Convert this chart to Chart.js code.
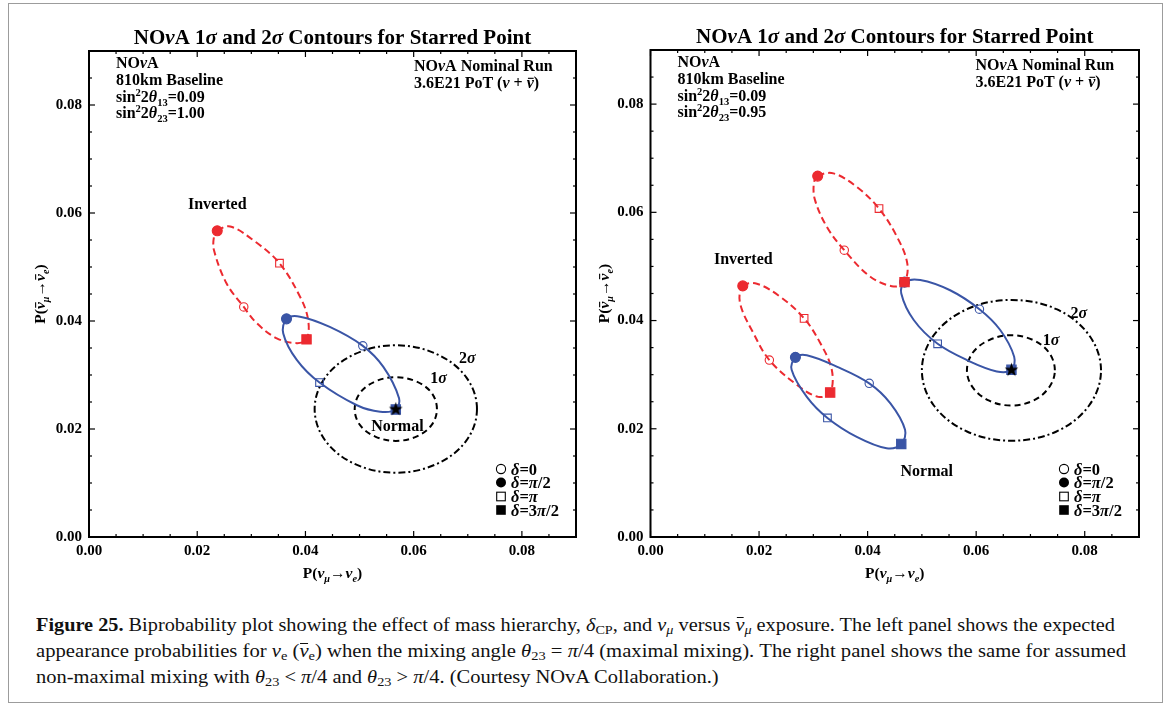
<!DOCTYPE html>
<html>
<head>
<meta charset="utf-8">
<script src="https://cdn.jsdelivr.net/npm/chart.js@4.4.0/dist/chart.umd.min.js"></script>
<style>
  body { margin: 0; background: #fff; width: 1168px; height: 706px; position: relative; overflow: hidden; font-family: "Liberation Serif", serif; }
  #frame { position: absolute; left: 8px; top: 3px; width: 1155px; height: 700px; border: 1px solid #9c9c9c; box-sizing: border-box; }
  canvas { position: absolute; top: 0; }
  .cap { position: absolute; left: 36px; font-size: 18px; line-height: 26px; white-space: nowrap; color: #111; transform-origin: 0 50%; }
  .cap sub { font-size: 70%; vertical-align: -3px; line-height: 0; }
  .bar { position: relative; display: inline-block; }
  .bar::after { content: ""; position: absolute; left: 12%; right: 5%; top: 0.28em; border-top: 1px solid #111; }
</style>
</head>
<body>
<div id="frame"></div>
<canvas id="leftPanel" width="584" height="590" style="left:0"></canvas>
<canvas id="rightPanel" width="584" height="590" style="left:584px"></canvas>

<div class="cap" style="top:612px"><b>Figure 25.</b> Biprobability plot showing the effect of mass hierarchy, <i>δ</i><sub>CP</sub>, and <i>ν<sub>μ</sub></i> versus <i><span class="bar">ν</span><sub>μ</sub></i> exposure. The left panel shows the expected</div>
<div class="cap" style="top:638px">appearance probabilities for <i>ν</i><sub>e</sub> (<i><span class="bar">ν</span></i><sub>e</sub>) when the mixing angle <i>θ</i><sub>23</sub> = <i>π</i>/4 (maximal mixing). The right panel shows the same for assumed</div>
<div class="cap" style="top:664px">non-maximal mixing with <i>θ</i><sub>23</sub> &lt; <i>π</i>/4 and <i>θ</i><sub>23</sub> &gt; <i>π</i>/4. (Courtesy NOvA Collaboration.)</div>

<script>
/* ----- dados: [P(nu_mu->nu_e), P(antinu_mu->antinu_e)] ----- */

// painel esquerdo, sin^2 2theta23 = 1.00
const leftInvertedCurve = [
  [0.0237, 0.0567], [0.0261, 0.0575], [0.0307, 0.0547], [0.0352, 0.0507], [0.0390, 0.0445],
  [0.0405, 0.0402], [0.0402, 0.0366], [0.0384, 0.0359], [0.0347, 0.0368], [0.0310, 0.0396],
  [0.0286, 0.0426], [0.0254, 0.0470], [0.0231, 0.0531], [0.0231, 0.0556]
];
const leftNormalCurve = [
  [0.0365, 0.0404], [0.0390, 0.0408], [0.0445, 0.0389], [0.0506, 0.0354], [0.0544, 0.0315],
  [0.0573, 0.0257], [0.0567, 0.0236], [0.0538, 0.0232], [0.0495, 0.0244], [0.0426, 0.0286],
  [0.0384, 0.0328], [0.0359, 0.0377]
];
const leftSigma1 = [
  [0.0643, 0.0237], [0.0633, 0.0267], [0.0605, 0.0288], [0.0567, 0.0296], [0.0529, 0.0288],
  [0.0501, 0.0267], [0.0491, 0.0237], [0.0501, 0.0207], [0.0529, 0.0186], [0.0567, 0.0178],
  [0.0605, 0.0186], [0.0633, 0.0207]
];
const leftSigma2 = [
  [0.0717, 0.0237], [0.0697, 0.0296], [0.0642, 0.0339], [0.0567, 0.0355], [0.0492, 0.0339],
  [0.0437, 0.0296], [0.0417, 0.0237], [0.0437, 0.0178], [0.0492, 0.0135], [0.0567, 0.0119],
  [0.0642, 0.0135], [0.0697, 0.0178]
];
// marcadores na ordem delta = 0, pi/2, pi, 3pi/2
const leftInvertedDelta = [[0.0286, 0.0426], [0.0237, 0.0567], [0.0352, 0.0507], [0.0402, 0.0366]];
const leftNormalDelta = [[0.0506, 0.0354], [0.0365, 0.0404], [0.0426, 0.0286], [0.0567, 0.0236]];
const leftStar = [[0.0567, 0.0237]];

// painel direito, sin^2 2theta23 = 0.95
const rightInvertedUpper = [
  [0.0308, 0.0667], [0.0337, 0.0672], [0.0380, 0.0647], [0.0421, 0.0607], [0.0454, 0.0555],
  [0.0473, 0.0506], [0.0468, 0.0471], [0.0448, 0.0463], [0.0405, 0.0481], [0.0357, 0.0530],
  [0.0325, 0.0573], [0.0303, 0.0623], [0.0301, 0.0654]
];
const rightInvertedLower = [
  [0.0170, 0.0464], [0.0196, 0.0468], [0.0239, 0.0444], [0.0283, 0.0404], [0.0313, 0.0358],
  [0.0334, 0.0309], [0.0331, 0.0267], [0.0309, 0.0259], [0.0270, 0.0281], [0.0219, 0.0327],
  [0.0190, 0.0376], [0.0165, 0.0432]
];
const rightNormalUpper = [
  [0.0468, 0.0471], [0.0497, 0.0475], [0.0552, 0.0456], [0.0606, 0.0421], [0.0644, 0.0383],
  [0.0670, 0.0333], [0.0665, 0.0309], [0.0638, 0.0306], [0.0583, 0.0327], [0.0529, 0.0357],
  [0.0485, 0.0401], [0.0462, 0.0450]
];
const rightNormalLower = [
  [0.0267, 0.0332], [0.0288, 0.0336], [0.0343, 0.0315], [0.0403, 0.0284], [0.0442, 0.0247],
  [0.0469, 0.0198], [0.0462, 0.0172], [0.0435, 0.0164], [0.0380, 0.0185], [0.0326, 0.0220],
  [0.0288, 0.0259], [0.0260, 0.0309]
];
const rightSigma1 = [
  [0.0745, 0.0308], [0.0734, 0.0341], [0.0705, 0.0364], [0.0664, 0.0373], [0.0624, 0.0364],
  [0.0594, 0.0341], [0.0583, 0.0308], [0.0594, 0.0276], [0.0624, 0.0252], [0.0664, 0.0243],
  [0.0705, 0.0252], [0.0734, 0.0276]
];
const rightSigma2 = [
  [0.0830, 0.0308], [0.0808, 0.0373], [0.0748, 0.0421], [0.0665, 0.0438], [0.0583, 0.0421],
  [0.0522, 0.0373], [0.0500, 0.0308], [0.0522, 0.0243], [0.0583, 0.0195], [0.0665, 0.0178],
  [0.0748, 0.0195], [0.0808, 0.0243]
];
const rightInvUpperDelta = [[0.0357, 0.0530], [0.0308, 0.0667], [0.0421, 0.0607], [0.0468, 0.0471]];
const rightInvLowerDelta = [[0.0219, 0.0327], [0.0170, 0.0464], [0.0283, 0.0404], [0.0331, 0.0267]];
const rightNorUpperDelta = [[0.0606, 0.0421], [0.0468, 0.0471], [0.0529, 0.0357], [0.0665, 0.0309]];
const rightNorLowerDelta = [[0.0403, 0.0284], [0.0267, 0.0332], [0.0326, 0.0220], [0.0462, 0.0172]];
const rightStar = [[0.0665, 0.0309]];

// eixos
const axisMin = 0, axisMax = 0.09, minorStep = 0.005;
const legendLabels = ['δ=0', 'δ=π/2', 'δ=π', 'δ=3π/2'];

/* ----- estilos ----- */
const RED = '#ec2a30';
const BLUE = '#3a55a6';
const FONT = '"Liberation Serif", "DejaVu Serif", serif';
const CLEAR = 'rgba(0,0,0,0)';

function isMajor(v) { return Math.abs(v * 50 - Math.round(v * 50)) < 1e-6; }

// estrela preta cheia como pointStyle
const starImg = document.createElement('canvas');
starImg.width = 15; starImg.height = 15;
(function () {
  const c = starImg.getContext('2d');
  c.beginPath();
  for (let i = 0; i < 10; i++) {
    const r = i % 2 ? 2.9 : 7.2;
    const a = -Math.PI / 2 + i * Math.PI / 5;
    c.lineTo(7.5 + r * Math.cos(a), 7.8 + r * Math.sin(a));
  }
  c.closePath();
  c.fillStyle = '#000';
  c.fill();
})();

/* fecha a curva: repete os vizinhos para a spline ficar suave na emenda */
function curve(pts, color, dash, width, order) {
  const n = pts.length;
  const wrapped = [pts[n - 1], ...pts, pts[0], pts[1]];
  return {
    data: wrapped.map(p => ({ x: p[0], y: p[1] })),
    showLine: true, fill: false, tension: 0.36,
    borderColor: color, borderWidth: width, borderDash: dash,
    pointRadius: 0, pointHoverRadius: 0, order,
    segment: { borderColor: c => (c.p0DataIndex === 0 || c.p0DataIndex === n + 1) ? CLEAR : undefined }
  };
}

function deltas(pts, color, order) {
  return {
    data: pts.map(p => ({ x: p[0], y: p[1] })),
    showLine: false, order,
    pointStyle: ['circle', 'circle', 'rect', 'rect'],
    pointRadius: [4.2, 5, 5.4, 6.6],
    pointBackgroundColor: [CLEAR, color, CLEAR, color],
    pointBorderColor: color,
    pointBorderWidth: 1.1
  };
}

function star(pts) {
  return { data: pts.map(p => ({ x: p[0], y: p[1] })), showLine: false, pointStyle: starImg, pointRadius: 7, order: 0 };
}

/* ----- texto com sub/sobrescrito, italico e barra ----- */
function rich(ctx, parts, x, y, size, align, bold) {
  const items = parts.map(p => {
    const t = typeof p === 'string' ? p : p[0];
    const f = typeof p === 'string' ? '' : p[1];
    const s = (f.includes('_') || f.includes('^')) ? size * 0.66 : size;
    ctx.font = `${f.includes('i') ? 'italic ' : ''}${bold ? 'bold ' : ''}${s}px ${FONT}`;
    return { t, f, s, w: ctx.measureText(t).width };
  });
  const total = items.reduce((a, b) => a + b.w, 0);
  let cx = align === 'center' ? x - total / 2 : align === 'right' ? x - total : x;
  ctx.textAlign = 'left';
  ctx.textBaseline = 'alphabetic';
  for (const it of items) {
    ctx.font = `${it.f.includes('i') ? 'italic ' : ''}${bold ? 'bold ' : ''}${it.s}px ${FONT}`;
    const dy = it.f.includes('_') ? size * 0.27 : it.f.includes('^') ? -size * 0.4 : 0;
    ctx.fillText(it.t, cx, y + dy);
    if (it.f.includes('-')) ctx.fillRect(cx + it.w * 0.18, y - size * 0.64, it.w * 0.8, Math.max(1, size * 0.07));
    cx += it.w;
  }
}

const xTitle = ['P(', ['ν', 'i'], ['μ', 'i_'], '→', ['ν', 'i'], ['e', 'i_'], ')'];
const yTitle = ['P(', ['ν', 'i-'], ['μ', 'i_'], '→', ['ν', 'i-'], ['e', 'i_'], ')'];
const titleParts = ['NO', ['ν', 'i'], 'A 1', ['σ', 'i'], ' and 2', ['σ', 'i'], ' Contours for Starred Point'];
const legendParts = [
  [['δ', 'i'], '=0'],
  [['δ', 'i'], '=', ['π', 'i'], '/2'],
  [['δ', 'i'], '=', ['π', 'i']],
  [['δ', 'i'], '=3', ['π', 'i'], '/2']
];

const decor = {
  id: 'decor',
  afterDraw(chart, args, o) {
    const { ctx, chartArea: a, scales: { x, y } } = chart;
    ctx.save();
    ctx.strokeStyle = '#000';
    ctx.fillStyle = '#000';
    ctx.lineWidth = 1.2;
    const seg = (x1, y1, x2, y2) => { ctx.beginPath(); ctx.moveTo(x1, y1); ctx.lineTo(x2, y2); ctx.stroke(); };
    x.ticks.forEach(t => {
      const px = x.getPixelForValue(t.value), L = isMajor(t.value) ? 6 : 3;
      seg(px, a.bottom, px, a.bottom - L); seg(px, a.top, px, a.top + L);
    });
    y.ticks.forEach(t => {
      const py = y.getPixelForValue(t.value), L = isMajor(t.value) ? 6 : 3;
      seg(a.left, py, a.left + L, py); seg(a.right, py, a.right - L, py);
    });
    ctx.lineWidth = 2;
    ctx.strokeRect(a.left, a.top, a.right - a.left, a.bottom - a.top);

    const midX = (a.left + a.right) / 2, midY = (a.top + a.bottom) / 2;
    rich(ctx, titleParts, midX, a.top - 7, 21, 'center', true);
    rich(ctx, xTitle, midX, a.bottom + 41, 15.5, 'center', true);
    ctx.save();
    ctx.translate(a.left - o.yTitleGap + 5, midY);
    ctx.rotate(-Math.PI / 2);
    rich(ctx, yTitle, 0, 0, 15.5, 'center', true);
    ctx.restore();

    const info = [
      ['NO', ['ν', 'i'], 'A'],
      ['810km Baseline'],
      ['sin', ['2', '^'], '2', ['θ', 'i'], ['13', '_'], '=0.09'],
      ['sin', ['2', '^'], '2', ['θ', 'i'], ['23', '_'], '=' + o.s23]
    ];
    [17, 34, 51, 67].forEach((dy, i) => rich(ctx, info[i], a.left + 27, a.top + dy, 16, 'left', true));
    rich(ctx, ['NO', ['ν', 'i'], 'A Nominal Run'], a.left + 325, a.top + 20, 16, 'left', true);
    rich(ctx, ['3.6E21 PoT (', ['ν', 'i'], ' + ', ['ν', 'i-'], ')'], a.left + 325, a.top + 37, 16, 'left', true);

    o.labels.forEach(l => rich(ctx, l.parts, x.getPixelForValue(l.at[0]), y.getPixelForValue(l.at[1]) + 5.5, 16, 'center', true));

    // legenda dos marcadores
    const lx = a.right - 75;
    [-68, -54.5, -40.5, -27].forEach((dy, i) => {
      const ly = a.bottom + dy;
      ctx.lineWidth = 1.1;
      ctx.beginPath();
      if (i === 0) { ctx.arc(lx, ly, 4.6, 0, Math.PI * 2); ctx.stroke(); }
      if (i === 1) { ctx.arc(lx, ly, 5, 0, Math.PI * 2); ctx.fill(); }
      if (i === 2) { ctx.strokeRect(lx - 4.3, ly - 4.3, 8.6, 8.6); }
      if (i === 3) { ctx.fillRect(lx - 4.8, ly - 4.8, 9.6, 9.6); }
      rich(ctx, legendParts[i], lx + 10, ly + 5.5, 16.5, 'left', true);
    });
    ctx.restore();
  }
};

function axis(pos, fitSize) {
  return {
    type: 'linear', position: pos, min: axisMin, max: axisMax,
    afterFit: s => { if (pos === 'bottom') s.height = fitSize; else s.width = fitSize; },
    grid: { display: false, drawTicks: false },
    border: { display: false },
    ticks: {
      stepSize: minorStep, autoSkip: false, maxRotation: 0, padding: pos === 'bottom' ? 5 : 7,
      color: '#000', font: { family: FONT, weight: 'bold', size: 15 },
      callback: v => isMajor(v) ? v.toFixed(2) : ''
    }
  };
}

function panel(id, datasets, opts) {
  return new Chart(document.getElementById(id), {
    type: 'scatter',
    data: { datasets },
    options: {
      responsive: false, animation: false, devicePixelRatio: 1,
      layout: { padding: { left: 0, right: opts.padRight, top: opts.padTop, bottom: 0 } },
      scales: { x: axis('bottom', 53), y: axis('left', opts.yWidth) },
      plugins: {
        legend: { display: false }, tooltip: { enabled: false },
        decor: { yTitleGap: opts.yTitleGap, s23: opts.s23, labels: opts.labels }
      }
    },
    plugins: [decor]
  });
}

const sigmaLabels = (p1, p2) => [
  { parts: ['1', ['σ', 'i']], at: p1 },
  { parts: ['2', ['σ', 'i']], at: p2 }
];

panel('leftPanel', [
  curve(leftSigma2, '#000', [7, 3, 2, 3], 2, 10),
  curve(leftSigma1, '#000', [6, 4], 2, 10),
  curve(leftInvertedCurve, RED, [7, 4], 2, 8),
  curve(leftNormalCurve, BLUE, [], 2, 7),
  deltas(leftNormalDelta, BLUE, 4),
  deltas(leftInvertedDelta, RED, 3),
  star(leftStar)
], {
  padRight: 8, padTop: 51, yWidth: 89, yTitleGap: 49, s23: '1.00',
  labels: [
    { parts: ['Inverted'], at: [0.0237, 0.0618] },
    { parts: ['Normal'], at: [0.0570, 0.0207] },
    ...sigmaLabels([0.0646, 0.0296], [0.0699, 0.0333])
  ]
});

panel('rightPanel', [
  curve(rightSigma2, '#000', [7, 3, 2, 3], 2, 10),
  curve(rightSigma1, '#000', [6, 4], 2, 10),
  curve(rightInvertedUpper, RED, [7, 4], 2, 8),
  curve(rightInvertedLower, RED, [7, 4], 2, 8),
  curve(rightNormalUpper, BLUE, [], 2, 7),
  curve(rightNormalLower, BLUE, [], 2, 7),
  deltas(rightNorUpperDelta, BLUE, 4),
  deltas(rightNorLowerDelta, BLUE, 4),
  deltas(rightInvUpperDelta, RED, 3),
  deltas(rightInvLowerDelta, RED, 3),
  star(rightStar)
], {
  padRight: 29, padTop: 50, yWidth: 66.5, yTitleGap: 46.5, s23: '0.95',
  labels: [
    { parts: ['Inverted'], at: [0.0171, 0.0514] },
    { parts: ['Normal'], at: [0.0509, 0.0122] },
    ...sigmaLabels([0.0738, 0.0365], [0.0789, 0.0415])
  ]
});

/* ----- legenda da figura: ajusta cada linha a largura do original ----- */
const capLines = document.querySelectorAll('.cap');
const capWidths = [1079, 1090];
const scales = [];
capLines.forEach((el, i) => {
  const w = el.getBoundingClientRect().width;
  if (i < capWidths.length) scales.push(capWidths[i] / w);
});
capLines.forEach((el, i) => {
  const s = i < scales.length ? scales[i] : (scales[0] + scales[1]) / 2;
  el.style.transform = `scaleX(${s})`;
});
</script>
</body>
</html>
